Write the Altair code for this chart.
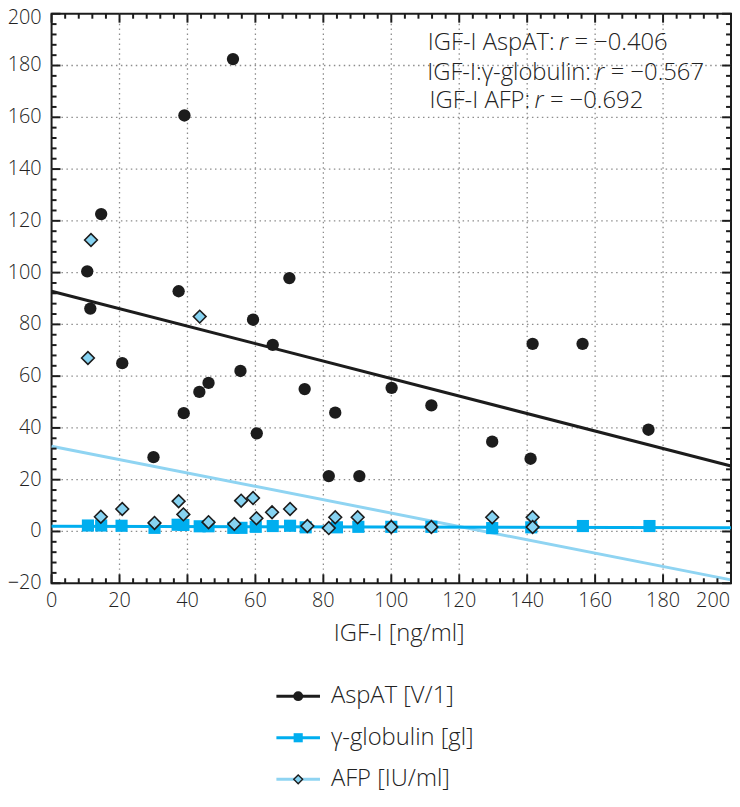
import altair as alt
import pandas as pd

# ---------------- data ----------------
series_names = ["AspAT [V/1]", "γ-globulin [gl]", "AFP [IU/ml]"]
x_title = "IGF-I [ng/ml]"

aspat_x = [10.5, 11.4, 14.6, 20.8, 30.0, 37.4, 38.9, 39.1, 43.5, 46.2, 53.4, 55.6, 59.3, 60.4,
           65.1, 70.0, 74.5, 81.6, 83.5, 90.6, 100.1, 111.8, 129.7, 141.0, 141.6, 156.3, 175.7]
aspat_y = [100.5, 86.1, 122.6, 65.0, 28.7, 92.8, 45.7, 160.7, 53.9, 57.4, 182.5, 62.0, 81.8, 37.9,
           72.1, 97.9, 55.0, 21.4, 45.9, 21.4, 55.5, 48.7, 34.7, 28.1, 72.5, 72.5, 39.3]

gamma_x = [10.7, 14.6, 20.6, 30.3, 37.1, 38.8, 43.6, 46.2, 53.5, 55.9, 60.1, 65.1, 70.2, 74.8,
           84.0, 90.3, 100.0, 111.8, 129.7, 141.2, 156.4, 176.0]
gamma_y = [2.3, 2.3, 2.2, 1.4, 2.6, 2.5, 2.0, 2.0, 1.4, 1.4, 1.8, 2.1, 2.2, 1.6,
           1.6, 1.8, 1.8, 1.8, 1.3, 1.6, 2.1, 2.1]

afp_x = [10.7, 11.6, 14.5, 20.8, 30.3, 37.4, 38.8, 43.6, 46.2, 53.8, 55.8, 59.3, 60.3, 64.9,
         70.2, 75.3, 81.6, 83.5, 90.1, 100.0, 111.8, 129.7, 141.6, 141.6]
afp_y = [67.0, 112.6, 5.7, 8.7, 3.3, 11.7, 6.6, 83.0, 3.6, 2.9, 11.9, 12.9, 5.1, 7.4,
         8.7, 2.1, 1.3, 5.5, 5.5, 1.7, 1.7, 5.5, 5.5, 1.7]

fit_x = [0, 200]
aspat_fit = [92.8, 25.3]
gamma_fit = [2.0, 1.4]
afp_fit = [32.9, -18.7]

ann_prefix = ["IGF-I AspAT:", "IGF-I:γ-globulin:", "IGF-I AFP:"]
ann_value = ["= −0.406", "= −0.567", "= −0.692"]
ann_x = [150.7, 161.4, 143.5]
ann_y = [188.5, 177.0, 166.2]

x_major = list(range(0, 201, 20))
y_major = list(range(-20, 201, 20))
x_minor = [v for v in range(0, 201, 4) if v % 20]
y_minor = [v for v in range(-20, 201, 4) if v % 20]

# ---------------- styles ----------------
W, H = 686, 575
FONT = "Open Sans"
INK = "#1c1c1c"
GAMMA = "#00AEEF"
AFP_LINE = "#8FD4F2"
AFP_FILL = "#86D3F2"
TEXT = "#222222"
GRID = "#8c8c8c"

xs = alt.Scale(domain=[0, 200], nice=False, zero=False)
ys = alt.Scale(domain=[-20, 200], nice=False, zero=False)


def X(f="x"):
    return alt.X(f"{f}:Q", scale=xs, axis=None)


def Y(f="y"):
    return alt.Y(f"{f}:Q", scale=ys, axis=None)


# ---------------- data frames ----------------
aspat_df = pd.DataFrame({"x": aspat_x, "y": aspat_y})
gamma_df = pd.DataFrame({"x": gamma_x, "y": gamma_y})
afp_df = pd.DataFrame({"x": afp_x, "y": afp_y})
fit_df = pd.DataFrame({"x": fit_x, "aspat": aspat_fit, "gamma": gamma_fit, "afp": afp_fit})
ann_df = pd.DataFrame({"pre": ann_prefix, "val": ann_value, "x": ann_x, "y": ann_y})
xmaj_df = pd.DataFrame({"v": x_major})
ymaj_df = pd.DataFrame({"v": y_major})

# dotted grid at the major ticks
grid_v = alt.Chart(xmaj_df).transform_filter("datum.v > 0 && datum.v < 200").mark_rule(
    color=GRID, strokeWidth=1.3, strokeDash=[1.5, 3.5]).encode(x=X("v"), y=alt.value(0), y2=alt.value(H))
grid_h = alt.Chart(ymaj_df).transform_filter("datum.v > -20 && datum.v < 200").mark_rule(
    color=GRID, strokeWidth=1.3, strokeDash=[1.5, 3.5]).encode(y=Y("v"), x=alt.value(0), x2=alt.value(W))

# regression lines
aspat_line = alt.Chart(fit_df).mark_line(color=INK, strokeWidth=3).encode(x=X(), y=Y("aspat"))
gamma_line = alt.Chart(fit_df).mark_line(color=GAMMA, strokeWidth=3).encode(x=X(), y=Y("gamma"))
afp_line = alt.Chart(fit_df).mark_line(color=AFP_LINE, strokeWidth=3).encode(x=X(), y=Y("afp"))

# points
squares = alt.Chart(gamma_df).mark_point(shape="square", filled=True, size=150, color=GAMMA,
                                         opacity=1).encode(x=X(), y=Y())
circles = alt.Chart(aspat_df).mark_point(shape="circle", filled=True, size=155, color=INK,
                                         opacity=1).encode(x=X(), y=Y())
diamonds = alt.Chart(afp_df).mark_point(shape="diamond", filled=True, size=165, fill=AFP_FILL,
                                        stroke=INK, strokeWidth=1.6, opacity=1).encode(x=X(), y=Y())

# tick labels
LBL = dict(font=FONT, fontSize=20, fontWeight=300, color=TEXT, baseline="middle")
xlab_mid = alt.Chart(xmaj_df).transform_filter("datum.v < 200").mark_text(align="center", **LBL).encode(
    x=X("v"), y=alt.value(H + 18), text="v:Q")
xlab_end = alt.Chart(xmaj_df).transform_filter("datum.v >= 200").mark_text(align="right", dx=-1, **LBL).encode(
    x=X("v"), y=alt.value(H + 18), text="v:Q")
ylab = alt.Chart(ymaj_df).transform_filter("datum.v < 200").mark_text(align="right", **LBL).encode(
    y=Y("v"), x=alt.value(-10), text="v:Q")
ylab_top = alt.Chart(ymaj_df).transform_filter("datum.v >= 200").mark_text(align="right", dy=4, **LBL).encode(
    y=Y("v"), x=alt.value(-10), text="v:Q")

# axis title
title_mark = alt.Chart(pd.DataFrame({"t": [x_title]})).mark_text(
    align="center", baseline="middle", font=FONT, fontSize=24, fontWeight=300, color=TEXT
).encode(x=alt.value(351), y=alt.value(H + 51), text="t:N")

# annotations
ANN = dict(baseline="middle", font=FONT, fontSize=24, fontWeight=300, color=TEXT)
ann_pre = alt.Chart(ann_df).mark_text(align="right", dx=-9, **ANN).encode(x=X(), y=Y(), text="pre:N")
ann_r = alt.Chart(ann_df).mark_text(align="center", fontStyle="italic", **ANN).encode(
    x=X(), y=Y(), text=alt.value("r"))
ann_val = alt.Chart(ann_df).mark_text(align="left", dx=11, **ANN).encode(x=X(), y=Y(), text="val:N")


# inward ticks on all four sides
def ticks(values, side, length):
    d = alt.Chart(pd.DataFrame({"v": values})).mark_rule(color=INK, strokeWidth=2)
    if side == "bottom":
        return d.encode(x=X("v"), y=alt.value(H), y2=alt.value(H - length))
    if side == "top":
        return d.encode(x=X("v"), y=alt.value(0), y2=alt.value(length))
    if side == "left":
        return d.encode(y=Y("v"), x=alt.value(0), x2=alt.value(length))
    return d.encode(y=Y("v"), x=alt.value(W), x2=alt.value(W - length))


tick_layers = []
for side in ["bottom", "top"]:
    tick_layers += [ticks(x_major, side, 9), ticks(x_minor, side, 5)]
for side in ["left", "right"]:
    tick_layers += [ticks(y_major, side, 9), ticks(y_minor, side, 5)]

# custom legend below the plot (line + marker, as in the reference)
leg_styles = [
    dict(line=INK, shape="circle", fill=INK, stroke=INK, size=100),
    dict(line=GAMMA, shape="square", fill=GAMMA, stroke=GAMMA, size=85),
    dict(line=AFP_LINE, shape="diamond", fill=AFP_FILL, stroke=INK, size=80),
]
LEG_Y0, LEG_DY = 689, 42
legend_layers = []
for i, name in enumerate(series_names):
    st = leg_styles[i]
    yp = LEG_Y0 + i * LEG_DY
    ldf = pd.DataFrame({"name": [name]})
    legend_layers.append(alt.Chart(ldf).mark_rule(color=st["line"], strokeWidth=3).encode(
        x=alt.value(227), x2=alt.value(271), y=alt.value(yp)))
    legend_layers.append(alt.Chart(ldf).mark_point(shape=st["shape"], filled=True, size=st["size"],
                                                   fill=st["fill"], stroke=st["stroke"],
                                                   strokeWidth=1.4 if i == 2 else 0, opacity=1).encode(
        x=alt.value(249), y=alt.value(yp)))
    legend_layers.append(alt.Chart(ldf).mark_text(align="left", baseline="middle", font=FONT, fontSize=24,
                                                  fontWeight=300, color=TEXT).encode(
        x=alt.value(282), y=alt.value(yp), text="name:N"))

chart = alt.layer(
    grid_v, grid_h, aspat_line, afp_line, gamma_line, squares, circles, diamonds,
    xlab_mid, xlab_end, ylab, ylab_top, title_mark, ann_pre, ann_r, ann_val, *tick_layers, *legend_layers
).properties(
    width=W, height=H,
    autosize=alt.AutoSizeParams(type="none"),
    padding={"left": 44, "top": 2, "right": 1, "bottom": 209},
    background="white",
).configure_view(stroke=INK, strokeWidth=2)

chart.save("out.html", embed_options={"renderer": "svg", "actions": False})
